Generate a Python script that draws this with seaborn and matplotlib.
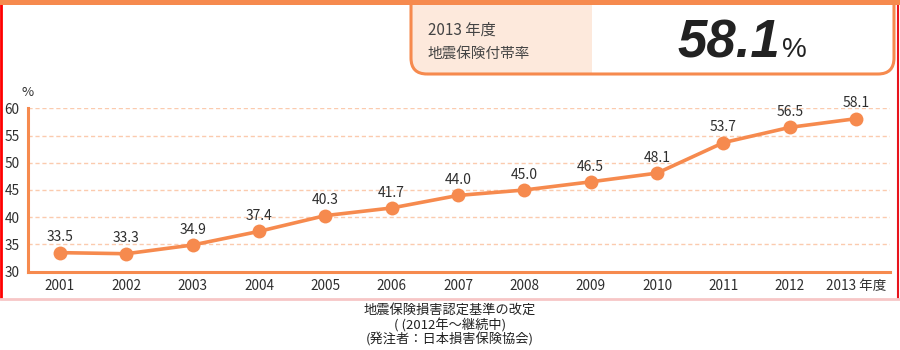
import matplotlib
matplotlib.use("Agg")
import matplotlib.pyplot as plt
from matplotlib.patches import FancyBboxPatch, Rectangle
import seaborn as sns
import pandas as pd

years = [2001, 2002, 2003, 2004, 2005, 2006, 2007, 2008, 2009, 2010, 2011, 2012, 2013]
rates = [33.5, 33.3, 34.9, 37.4, 40.3, 41.7, 44.0, 45.0, 46.5, 48.1, 53.7, 56.5, 58.1]
xtick_labels = ["2001", "2002", "2003", "2004", "2005", "2006", "2007", "2008",
                "2009", "2010", "2011", "2012", "2013 年度"]
yticks = [30, 35, 40, 45, 50, 55, 60]
headline_year = "2013 年度"
headline_label = "地震保険付帯率"
headline_value = "58.1"
caption = ["地震保険損害認定基準の改定", "( (2012年～継続中)", "(発注者：日本損害保険協会)"]

ORANGE = "#F68A4E"
PEACH = "#FDE9DC"
GRID = "#FBCBAE"
TXT = "#2E2E2E"

sns.set_theme(style="white")
plt.rcParams["font.family"] = ["Noto Sans CJK JP", "DejaVu Sans"]

W, H = 900, 350
fig = plt.figure(figsize=(W / 100, H / 100), dpi=100)

def fx(px):
    return px / W

def fy(py):
    return 1 - py / H

# axes
ax_l, ax_r, ax_t, ax_b = 28, 890, 108.3, 271.7
ax = fig.add_axes([fx(ax_l), fy(ax_b), fx(ax_r - ax_l), (ax_b - ax_t) / H])
df = pd.DataFrame({"year": years, "rate": rates})
sns.lineplot(data=df, x="year", y="rate", ax=ax, color=ORANGE, linewidth=2.6,
             marker="o", markersize=10, markeredgewidth=0, zorder=5)
ax.set_xlim(years[0] - 0.48, years[-1] + 0.51)
ax.set_ylim(30, 60)
ax.set_yticks(yticks)
ax.set_yticklabels([str(v) for v in yticks])
ax.set_xticks(years)
ax.set_xticklabels(xtick_labels)
ax.set_xlabel("")
ax.set_ylabel("")
for v in yticks[1:]:
    ax.axhline(v, color=GRID, linewidth=1, linestyle=(0, (3, 2)), zorder=1)
for s in ["top", "right"]:
    ax.spines[s].set_visible(False)
for s in ["left", "bottom"]:
    ax.spines[s].set_color(ORANGE)
    ax.spines[s].set_linewidth(2.2)
ax.tick_params(axis="both", length=0, colors=TXT, labelsize=9.8)
ax.tick_params(axis="y", pad=6)
ax.tick_params(axis="x", pad=5)
for x, y in zip(years, rates):
    ax.annotate(f"{y:.1f}", (x, y), xytext=(0, 11), textcoords="offset points",
                ha="center", va="center", fontsize=10, color=TXT, zorder=6)

fig.text(fx(28), fy(92), "%", ha="center", va="center", fontsize=9.5, color=TXT)

# top orange bar
fig.patches.append(Rectangle((0, fy(5)), 1, fy(0) - fy(5) + 0.01, transform=fig.transFigure,
                             facecolor=ORANGE, edgecolor="none", zorder=3))

# headline box
bx0, bx1, by0, by1 = 411, 894, -30, 74
r = 16
fill_box = FancyBboxPatch((bx0, H - by1), bx1 - bx0, by1 - by0,
                          boxstyle=f"round,pad=0,rounding_size={r}",
                          transform=None, facecolor=PEACH, edgecolor="none", zorder=1)
fig.patches.append(fill_box)
fig.patches.append(Rectangle((592, H - by1 + 1), bx1 - 592, by1 + 5, transform=None,
                             facecolor="white", edgecolor="none", zorder=1.5))
edge_box = FancyBboxPatch((bx0, H - by1), bx1 - bx0, by1 - by0,
                          boxstyle=f"round,pad=0,rounding_size={r}",
                          transform=None, facecolor="none", edgecolor=ORANGE,
                          linewidth=2.2, zorder=2)
fig.patches.append(edge_box)

fig.text(fx(428), fy(30), headline_year, ha="left", va="center", fontsize=11, color="#444444", zorder=4)
fig.text(fx(428), fy(54), headline_label, ha="left", va="center", fontsize=10.5, color="#444444", zorder=4)
fig.text(fx(780), fy(44), headline_value, ha="right", va="center", fontsize=38,
         fontweight="bold", fontstyle="italic", family=["Liberation Sans", "DejaVu Sans"],
         color="#222222", zorder=4)
fig.text(fx(782), fy(50), "%", ha="left", va="center", fontsize=20,
         family=["Liberation Sans", "DejaVu Sans"], color="#222222", zorder=4)

# frame lines
fig.lines.append(plt.Line2D([fx(1), fx(1)], [fy(0), fy(298)], transform=fig.transFigure,
                            color="#FF0000", linewidth=2))
fig.lines.append(plt.Line2D([fx(897.5), fx(897.5)], [fy(0), fy(298)], transform=fig.transFigure,
                            color="#E8141C", linewidth=1.5))
fig.lines.append(plt.Line2D([0, 1], [fy(298.5), fy(298.5)], transform=fig.transFigure,
                            color="#F7C6C6", linewidth=2))

# caption
for i, line in enumerate(caption):
    fig.text(0.5, fy(310 + i * 15), line, ha="center", va="center", fontsize=9.5, color="#222222")

fig.savefig("out.png", dpi=100)
